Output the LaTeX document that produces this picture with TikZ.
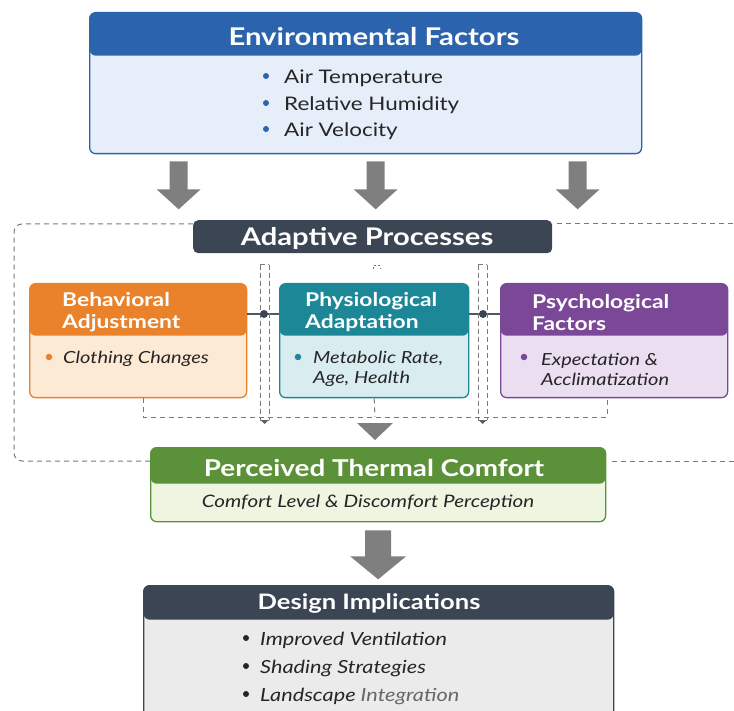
\documentclass[tikz,border=0pt]{standalone}
\usepackage{fontspec}
\setmainfont{Lato}[FakeStretch=1.2]
\usetikzlibrary{calc}

\definecolor{envhdr}{HTML}{2B63AC}
\definecolor{envbody}{HTML}{E5EEF9}
\definecolor{slate}{HTML}{3B4553}
\definecolor{orghdr}{HTML}{E9822B}
\definecolor{orgbody}{HTML}{FDEAD5}
\definecolor{tealhdr}{HTML}{1B8797}
\definecolor{tealbody}{HTML}{D9EDF0}
\definecolor{purhdr}{HTML}{7B4898}
\definecolor{purbody}{HTML}{EADEF0}
\definecolor{grnhdr}{HTML}{5B9138}
\definecolor{grnbody}{HTML}{EEF5E1}
\definecolor{desbody}{HTML}{EBEBEB}
\definecolor{arrowgrey}{HTML}{7F7F7F}
\definecolor{dashgrey}{HTML}{7A7A7A}
\definecolor{inktext}{HTML}{262626}

\begin{document}
\begin{tikzpicture}[x=1pt,y=-1pt,
  card/.style n args={4}{rounded corners=6pt, draw=#1, line width=1.3pt,
    fill=#2, inner sep=0pt, anchor=north west,
    minimum width=#3, minimum height=#4},
  band/.style 2 args={path picture={\fill[#1]
      (path picture bounding box.north west) rectangle
      ($(path picture bounding box.north east)+(0,#2)$);}},
  hdrtext/.style={text=white, font=\bfseries, inner sep=0pt, yshift=-1.5pt},
  bodytext/.style={text=inktext, inner sep=0pt, yshift=-2pt},
  dot/.style={circle, fill=#1, inner sep=0pt, minimum size=6.5pt},
  frame/.style={dashgrey, line width=1pt, dash pattern=on 5pt off 4pt},
  pipe/.style={dashgrey, line width=1pt, dash pattern=on 5pt off 3pt},
  link/.style={draw=slate!90, line width=1.3pt},
  pics/blockdown/.style n args={4}{code={
    \fill[arrowgrey] (-#1,0) -- (#1,0) -- (#1,#3) -- (#2,#3) -- (0,#4)
      -- (-#2,#3) -- (-#1,#3) -- cycle;}}
]
\useasboundingbox (0,0) rectangle (734,711);
\clip (0,0) rectangle (734,711);

% ---------- Environmental factors ----------
\node[card={envhdr}{envbody}{552pt}{141pt}, band={envhdr}{43}] (env) at (89,12) {};
\node[hdrtext, font=\bfseries\fontsize{24.4}{27}\selectfont] (envt) at (374,35) {Environmental Factors};
\foreach \y/\t [count=\i] in {76/Air Temperature, 103/Relative Humidity, 129/Air Velocity}{
  \node[dot=envhdr, minimum size=6pt] (envb\i) at (266,\y) {};
  \node[bodytext, anchor=west, font=\fontsize{18.7}{22}\selectfont] (envl\i) at (284,\y) {\t};
}

% ---------- arrows into the adaptive processes ----------
\path ($(env.south)+(-187,7)$) pic {blockdown={9}{22}{28}{48}};
\path ($(env.south)+(10,7)$) pic {blockdown={9}{22}{28}{48}};
\path ($(env.south)+(212,7)$) pic {blockdown={9}{22}{28}{48}};

% ---------- Adaptive processes ----------
\node[fill=slate, rounded corners=5pt, anchor=north west, inner sep=0pt,
      minimum width=359pt, minimum height=33pt] (adapt) at (193,220) {};
\node[hdrtext, font=\bfseries\fontsize{24.3}{27}\selectfont] (adaptt) at (367,237) {Adaptive Processes};

% dashed frame around the adaptive stage
\draw[frame, rounded corners=8pt] (adapt.north west |- 0,224) -- (14,224) -- (14,461) -- (150,461);
\draw[frame] (adapt.north east |- 0,224) ++(5,0) -- (734,224);
\draw[frame] (612,461) -- (734,461);

% three adaptive cards
\node[card={orghdr}{orgbody}{217pt}{114pt}, band={orghdr}{52}] (beh) at (29,283) {};
\node[hdrtext, anchor=west, align=left, font=\bfseries\fontsize{19}{22}\selectfont] (beht) at (62,311) {Behavioral\\Adjustment};
\node[dot=orghdr] (behb) at (49,357) {};
\node[bodytext, anchor=west, font=\itshape\fontsize{16.7}{20}\selectfont] (behl) at (63,357) {Clothing Changes};

\node[card={tealhdr}{tealbody}{189pt}{114pt}, band={tealhdr}{52}] (phy) at (279,283) {};
\node[hdrtext, anchor=west, align=left, font=\bfseries\fontsize{19}{22}\selectfont] (phyt) at (305,311) {Physiological\\Adaptation};
\node[dot=tealhdr] (phyb) at (298,357) {};
\node[bodytext, anchor=west, align=left, font=\itshape\fontsize{16.7}{20}\selectfont] (phyl) at (313,367) {Metabolic Rate,\\Age, Health};

\node[card={purhdr}{purbody}{227pt}{114pt}, band={purhdr}{52}] (psy) at (500,283) {};
\node[hdrtext, anchor=west, align=left, font=\bfseries\fontsize{19}{22}\selectfont] (psyt) at (532,311) {Psychological\\Factors};
\node[dot=purhdr] (psyb) at (524,357) {};
\node[bodytext, anchor=west, align=left, font=\itshape\fontsize{16.7}{20}\selectfont] (psyl) at (541,367) {Expectation \&\\Acclimatization};

% links between the cards
\coordinate (j1) at (264,314);
\coordinate (j2) at (483,314);
\draw[link] (beh.east |- j1) -- (phy.west |- j1);
\draw[link] (phy.east |- j2) -- (psy.west |- j2);

% dashed pipes running down between the cards
\foreach \xa/\xb/\n in {260/269/p1, 478/487/p2}{
  \draw[pipe] (\xa,265) -- (\xb,265);
  \draw[pipe] (\xa,265) -- (\xa,420);
  \draw[pipe] (\xb,265) -- (\xb,420);
  \draw[dashgrey, line width=1pt] (\xa,420) -- (\xb,420);
  \coordinate (\n) at ({(\xa+\xb)/2},420);
  \fill[slate!85] ($(\n)+(-4,0)$) -- ($(\n)+(4,0)$) -- ($(\n)+(0,4)$) -- cycle;
}
\fill[slate] (j1) circle (4pt);
\fill[slate] (j2) circle (4pt);
% short stub under the middle of the header
\draw[pipe, dash pattern=on 2pt off 2pt] (373,269) -- (373,266) -- (380,266) -- (380,269);

% dashed collector under the cards
\coordinate (m) at (375,417);
\draw[frame] (143,398) -- (143,417) -- (607,417) -- (607,398);
\draw[frame] (phy.south) -- (m);
\fill[arrowgrey] ($(m)+(-18,6)$) -- ($(m)+(18,6)$) -- ($(m)+(0,23)$) -- cycle;

% ---------- Perceived thermal comfort ----------
\node[card={grnhdr}{grnbody}{455pt}{74pt}, band={grnhdr}{36}] (perc) at (150,447) {};
\node[hdrtext, font=\bfseries\fontsize{23.2}{26}\selectfont] (perct) at (374,466) {Perceived Thermal Comfort};
\node[bodytext, font=\itshape\fontsize{17.2}{21}\selectfont] (percl) at (368,501) {Comfort Level \& Discomfort Perception};

\path ($(perc.south)+(0,8)$) pic {blockdown={13}{28}{26}{49}};

% ---------- Design implications ----------
\node[card={slate}{desbody}{470pt}{150pt}, band={slate}{34}] (des) at (143,585) {};
\node[hdrtext, font=\bfseries\fontsize{21.3}{24}\selectfont] (dest) at (369,602) {Design Implications};
\foreach \y/\t [count=\i] in {638/Improved Ventilation, 666/Shading Strategies, 694/Landscape {\color{inktext!70}Integration}}{
  \node[dot=inktext, minimum size=6pt] (desb\i) at (246,\y) {};
  \node[bodytext, anchor=west, font=\itshape\fontsize{18.1}{22}\selectfont] (desl\i) at (260,\y) {\t};
}
\end{tikzpicture}
\end{document}
